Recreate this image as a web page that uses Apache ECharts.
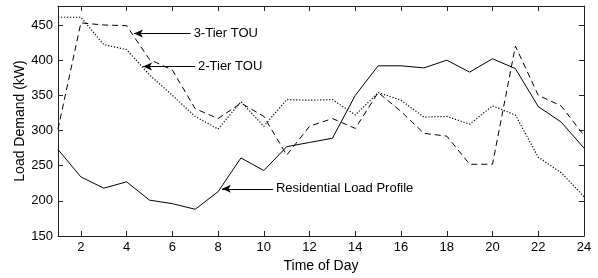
<!DOCTYPE html>
<html>
<head>
<meta charset="utf-8">
<script src="https://cdn.jsdelivr.net/npm/echarts@6/dist/echarts.min.js"></script>
<style>
  html, body { margin: 0; padding: 0; background: #fff; }
  #chart { width: 598px; height: 278px; }
</style>
</head>
<body>
<div id="chart"></div>
<script>
// hours of the day
const hours = [1,2,3,4,5,6,7,8,9,10,11,12,13,14,15,16,17,18,19,20,21,22,23,24];
const xTicks = [2,4,6,8,10,12,14,16,18,20,22,24];
const yTicks = [150,200,250,300,350,400,450];

// load demand (kW)
const residential = [273,234,218,227,201,196,188,213,261,243,277,283,289,350,392,392,389,400,383,402,388,334,312,275];
const tier3 = [302,453,450,449,401,386,331,317,339,320,265,306,317,303,354,327,296,292,252,252,420,350,335,293];
const tier2 = [461,461,422,415,379,350,320,302,341,306,344,343,344,322,354,343,319,320,309,335,322,262,240,206];

// annotations: [label, arrow head x, head y, tail x, tail y]
const notes = [
  ['3-Tier TOU', 4.32, 438, 6.8, 438],
  ['2-Tier TOU', 4.72, 391, 6.99, 391],
  ['Residential Load Profile', 8.17, 217, 10.4, 217]
];

const font = 'Liberation Sans, Arial, sans-serif';
const axisCol = '#222';

function pairs(ys) {
  return ys.map((v, i) => [hours[i], v]);
}

const chart = echarts.init(document.getElementById('chart'));

const lineBase = {
  type: 'line',
  showSymbol: false,
  symbol: 'none',
  animation: false,
  silent: true
};

chart.setOption({
  animation: false,
  grid: { left: 58, right: 14, top: 6, bottom: 42, outerBoundsMode: 'none' },
  xAxis: [{
    type: 'value', min: 1, max: 24,
    name: 'Time of Day', nameLocation: 'middle', nameGap: 23,
    nameTextStyle: { fontFamily: font, fontSize: 14, color: '#000' },
    axisLine: { show: true, lineStyle: { color: axisCol } },
    axisTick: { inside: true, length: 5, lineStyle: { color: axisCol }, customValues: xTicks },
    axisLabel: { fontFamily: font, fontSize: 13, color: '#000', margin: 5, customValues: xTicks },
    splitLine: { show: false }
  }, {
    type: 'value', min: 1, max: 24, position: 'top',
    axisLine: { show: true, lineStyle: { color: axisCol } },
    axisTick: { inside: true, length: 5, lineStyle: { color: axisCol }, customValues: xTicks },
    axisLabel: { show: false },
    splitLine: { show: false }
  }],
  yAxis: [{
    type: 'value', min: 150, max: 477, interval: 50,
    name: 'Load Demand (kW)', nameLocation: 'middle', nameGap: 31, nameMoveOverlap: false,
    nameTextStyle: { fontFamily: font, fontSize: 14, color: '#000' },
    axisLine: { show: true, lineStyle: { color: axisCol } },
    axisTick: { inside: true, length: 5, lineStyle: { color: axisCol }, customValues: yTicks },
    axisLabel: { fontFamily: font, fontSize: 13, color: '#000', margin: 5, customValues: yTicks },
    splitLine: { show: false }
  }, {
    type: 'value', min: 150, max: 477, interval: 50, position: 'right',
    axisLine: { show: true, lineStyle: { color: axisCol } },
    axisTick: { inside: true, length: 5, lineStyle: { color: axisCol }, customValues: yTicks },
    axisLabel: { show: false },
    splitLine: { show: false }
  }],
  series: [
    Object.assign({}, lineBase, {
      name: 'Residential Load Profile',
      data: pairs(residential),
      lineStyle: { color: '#000', width: 1, type: 'solid' }
    }),
    Object.assign({}, lineBase, {
      name: '3-Tier TOU',
      data: pairs(tier3),
      lineStyle: { color: '#000', width: 1, type: [6, 4] }
    }),
    Object.assign({}, lineBase, {
      name: '2-Tier TOU',
      data: pairs(tier2),
      lineStyle: { color: '#000', width: 1.2, type: [1.2, 1.8] },
      markLine: {
        silent: true,
        animation: false,
        symbol: ['none', 'arrow'],
        symbolSize: [6, 9],
        label: { show: false },
        lineStyle: { color: '#000', width: 1, type: 'solid' },
        data: notes.map(n => [
          { coord: [n[3], n[4]] },
          { coord: [n[1], n[2]] }
        ])
      }
    })
  ]
});

// annotation texts next to the arrow tails
const texts = notes.map(n => {
  const p = chart.convertToPixel({ xAxisIndex: 0, yAxisIndex: 0 }, [n[3], n[4]]);
  return {
    type: 'text',
    x: p[0] + 3,
    y: p[1],
    style: {
      text: n[0],
      fontFamily: font,
      fontSize: 13,
      fill: '#000',
      verticalAlign: 'middle',
      align: 'left'
    }
  };
});
chart.setOption({ graphic: texts });
</script>
</body>
</html>
